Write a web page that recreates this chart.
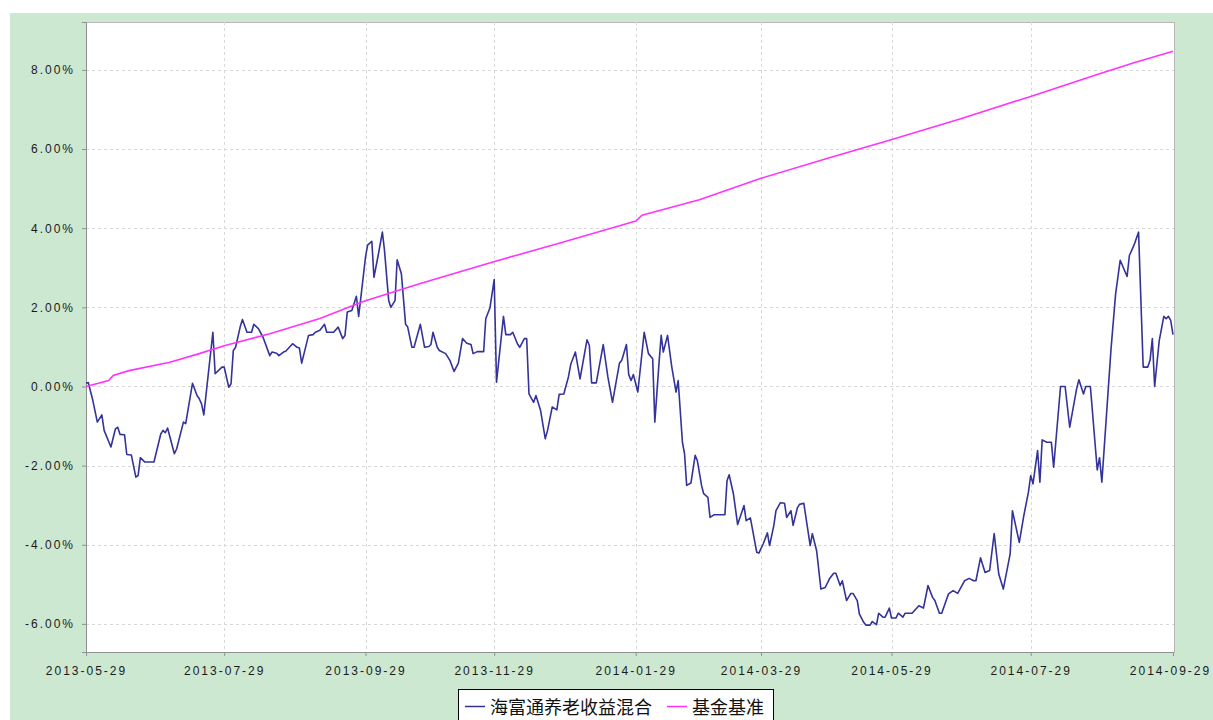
<!DOCTYPE html>
<html>
<head>
<meta charset="utf-8">
<script src="https://cdn.jsdelivr.net/npm/d3@7"></script>
<style>
  body { margin: 0; background: #fff; }
  svg { display: block; }
</style>
</head>
<body>
<div id="chart"></div>
<script>
// fund series
let fundDates = [
  '2013-05-29', '2013-05-30', '2013-06-01', '2013-06-03', '2013-06-05', '2013-06-06', '2013-06-09', '2013-06-11', '2013-06-12', '2013-06-13',
  '2013-06-15', '2013-06-16', '2013-06-18', '2013-06-20', '2013-06-21', '2013-06-22', '2013-06-24', '2013-06-28', '2013-07-01', '2013-07-02',
  '2013-07-03', '2013-07-04', '2013-07-07', '2013-07-08', '2013-07-11', '2013-07-12', '2013-07-15', '2013-07-17', '2013-07-18', '2013-07-19',
  '2013-07-20', '2013-07-24', '2013-07-25', '2013-07-28', '2013-07-29', '2013-07-31', '2013-08-01', '2013-08-02', '2013-08-03', '2013-08-05',
  '2013-08-06', '2013-08-08', '2013-08-10', '2013-08-11', '2013-08-13', '2013-08-15', '2013-08-18', '2013-08-19', '2013-08-21', '2013-08-22',
  '2013-08-24', '2013-08-25', '2013-08-28', '2013-08-30', '2013-08-31', '2013-09-01', '2013-09-04', '2013-09-06', '2013-09-07', '2013-09-09',
  '2013-09-11', '2013-09-12', '2013-09-15', '2013-09-17', '2013-09-19', '2013-09-20', '2013-09-21', '2013-09-23', '2013-09-25', '2013-09-26',
  '2013-09-29', '2013-09-30', '2013-10-02', '2013-10-03', '2013-10-05', '2013-10-07', '2013-10-08', '2013-10-10', '2013-10-11', '2013-10-13',
  '2013-10-14', '2013-10-16', '2013-10-18', '2013-10-19', '2013-10-21', '2013-10-22', '2013-10-25', '2013-10-27', '2013-10-29', '2013-10-30',
  '2013-10-31', '2013-11-02', '2013-11-03', '2013-11-06', '2013-11-08', '2013-11-10', '2013-11-12', '2013-11-14', '2013-11-16', '2013-11-18',
  '2013-11-19', '2013-11-21', '2013-11-24', '2013-11-25', '2013-11-27', '2013-11-29', '2013-11-30', '2013-12-03', '2013-12-04', '2013-12-06',
  '2013-12-07', '2013-12-09', '2013-12-10', '2013-12-12', '2013-12-13', '2013-12-14', '2013-12-16', '2013-12-17', '2013-12-19', '2013-12-21',
  '2013-12-22', '2013-12-24', '2013-12-26', '2013-12-27', '2013-12-29', '2013-12-31', '2014-01-01', '2014-01-03', '2014-01-05', '2014-01-08',
  '2014-01-09', '2014-01-10', '2014-01-12', '2014-01-15', '2014-01-17', '2014-01-19', '2014-01-22', '2014-01-23', '2014-01-25', '2014-01-26',
  '2014-01-27', '2014-01-28', '2014-01-30', '2014-02-02', '2014-02-04', '2014-02-06', '2014-02-07', '2014-02-09', '2014-02-10', '2014-02-11',
  '2014-02-13', '2014-02-15', '2014-02-17', '2014-02-18', '2014-02-20', '2014-02-21', '2014-02-22', '2014-02-24', '2014-02-26', '2014-02-27',
  '2014-03-01', '2014-03-02', '2014-03-04', '2014-03-05', '2014-03-07', '2014-03-12', '2014-03-13', '2014-03-14', '2014-03-16', '2014-03-18',
  '2014-03-21', '2014-03-22', '2014-03-24', '2014-03-27', '2014-03-28', '2014-03-30', '2014-04-01', '2014-04-02', '2014-04-04', '2014-04-05',
  '2014-04-07', '2014-04-09', '2014-04-10', '2014-04-12', '2014-04-13', '2014-04-15', '2014-04-16', '2014-04-18', '2014-04-21', '2014-04-22',
  '2014-04-24', '2014-04-26', '2014-04-28', '2014-04-30', '2014-05-02', '2014-05-03', '2014-05-05', '2014-05-06', '2014-05-08', '2014-05-10',
  '2014-05-11', '2014-05-13', '2014-05-14', '2014-05-16', '2014-05-17', '2014-05-19', '2014-05-20', '2014-05-22', '2014-05-23', '2014-05-25',
  '2014-05-26', '2014-05-28', '2014-05-29', '2014-05-31', '2014-06-01', '2014-06-03', '2014-06-04', '2014-06-07', '2014-06-10', '2014-06-12',
  '2014-06-14', '2014-06-16', '2014-06-17', '2014-06-19', '2014-06-20', '2014-06-23', '2014-06-25', '2014-06-27', '2014-06-30', '2014-07-02',
  '2014-07-04', '2014-07-05', '2014-07-07', '2014-07-09', '2014-07-11', '2014-07-13', '2014-07-15', '2014-07-17', '2014-07-20', '2014-07-21',
  '2014-07-24', '2014-07-26', '2014-07-28', '2014-07-29', '2014-07-30', '2014-08-01', '2014-08-02', '2014-08-03', '2014-08-05', '2014-08-07',
  '2014-08-08', '2014-08-11', '2014-08-13', '2014-08-15', '2014-08-18', '2014-08-19', '2014-08-21', '2014-08-22', '2014-08-24', '2014-08-27',
  '2014-08-28', '2014-08-29', '2014-09-02', '2014-09-04', '2014-09-06', '2014-09-09', '2014-09-10', '2014-09-12', '2014-09-14', '2014-09-16',
  '2014-09-18', '2014-09-19', '2014-09-20', '2014-09-21', '2014-09-23', '2014-09-25', '2014-09-26', '2014-09-27', '2014-09-28', '2014-09-29'
]

let fundValues = [
  0.08, 0.10, -0.35, -0.90, -0.72, -1.11, -1.53, -1.07, -1.03, -1.21,
  -1.22, -1.72, -1.73, -2.29, -2.25, -1.80, -1.91, -1.91, -1.20, -1.11,
  -1.17, -1.05, -1.70, -1.58, -0.90, -0.94, 0.08, -0.23, -0.31, -0.44,
  -0.72, 1.37, 0.32, 0.49, 0.49, -0.02, 0.07, 0.91, 0.99, 1.50,
  1.69, 1.37, 1.37, 1.57, 1.46, 1.25, 0.78, 0.87, 0.84, 0.78,
  0.87, 0.89, 1.08, 0.99, 0.97, 0.59, 1.29, 1.31, 1.37, 1.42,
  1.57, 1.37, 1.37, 1.50, 1.21, 1.29, 1.88, 1.92, 2.28, 1.77,
  3.27, 3.57, 3.67, 2.76, 3.31, 3.90, 3.44, 2.17, 2.00, 2.17,
  3.20, 2.85, 1.57, 1.50, 0.99, 0.99, 1.57, 0.99, 1.01, 1.06,
  1.37, 0.99, 0.91, 0.83, 0.66, 0.38, 0.59, 1.21, 1.09, 1.06,
  0.83, 0.88, 0.88, 1.71, 1.99, 2.70, 0.11, 1.77, 1.31, 1.31,
  1.37, 1.08, 0.99, 1.21, 1.21, -0.19, -0.40, -0.23, -0.61, -1.32,
  -1.11, -0.52, -0.59, -0.20, -0.19, 0.24, 0.56, 0.87, 0.19, 1.18,
  1.04, 0.09, 0.09, 1.06, 0.24, -0.40, 0.59, 0.66, 1.06, 0.30,
  0.15, 0.30, -0.14, 1.37, 0.83, 0.70, -0.90, 0.61, 1.29, 0.87,
  1.29, 0.49, -0.14, 0.15, -1.41, -1.70, -2.50, -2.44, -1.74, -1.87,
  -2.50, -2.71, -2.80, -3.31, -3.24, -3.24, -2.38, -2.23, -2.71, -3.49,
  -3.01, -3.39, -3.32, -4.19, -4.21, -3.98, -3.70, -4.02, -3.51, -3.14,
  -2.94, -2.95, -3.31, -3.14, -3.51, -3.07, -2.98, -2.95, -4.02, -3.72,
  -4.15, -5.12, -5.08, -4.86, -4.72, -4.72, -5.03, -4.91, -5.41, -5.23,
  -5.23, -5.41, -5.75, -5.96, -6.03, -6.03, -5.94, -6.02, -5.73, -5.83,
  -5.83, -5.60, -5.85, -5.85, -5.73, -5.83, -5.73, -5.73, -5.54, -5.60,
  -5.03, -5.33, -5.41, -5.73, -5.73, -5.24, -5.16, -5.23, -4.91, -4.85,
  -4.91, -4.91, -4.33, -4.70, -4.65, -3.72, -4.74, -5.12, -4.23, -3.14,
  -3.94, -3.26, -2.67, -2.25, -2.46, -1.62, -2.42, -1.35, -1.41, -1.41,
  -2.04, 0.00, 0.00, -1.03, -0.06, 0.17, -0.19, 0.00, 0.00, -2.11,
  -1.80, -2.42, 0.95, 2.34, 3.19, 2.78, 3.31, 3.57, 3.90, 0.49,
  0.49, 0.66, 1.21, 0.00, 1.16, 1.77, 1.71, 1.77, 1.67, 1.31
]

// benchmark series
let benchDates = [
  '2013-05-29', '2013-06-08', '2013-06-10', '2013-06-17', '2013-07-05', '2013-07-18', '2013-07-29', '2013-08-18',
  '2013-09-09', '2013-09-28', '2013-10-25', '2013-11-28', '2013-12-27', '2014-01-25', '2014-01-29', '2014-02-01',
  '2014-02-28', '2014-03-29', '2014-04-30', '2014-05-28', '2014-06-28', '2014-07-29', '2014-08-28', '2014-09-12', '2014-09-29'
]
let benchValues = [
  0.00, 0.15, 0.28, 0.40, 0.61, 0.83, 1.03, 1.33,
  1.72, 2.15, 2.60, 3.14, 3.62, 4.11, 4.18, 4.33,
  4.72, 5.26, 5.78, 6.22, 6.76, 7.33, 7.90, 8.18, 8.47
]

let xTickDates = ['2013-05-29', '2013-07-29', '2013-09-29', '2013-11-29', '2014-01-29', '2014-03-29', '2014-05-29', '2014-07-29', '2014-09-29']
let yTickValues = [-6, -4, -2, 0, 2, 4, 6, 8]
let legendLabels = ['海富通养老收益混合', '基金基准']
let legendColors = ['#333399', '#ff33ff']

let width = 1213
let height = 720
let margin = { top: 22, left: 86, right: 39, bottom: 68 }

// the date axis is spaced by trading days, so holidays squeeze some stretches;
// pixel stops for each tick keep that spacing
let xTickPx = [86, 224.2, 365.5, 494.2, 635.7, 761, 891.5, 1030.7, 1173]

let parseDate = d3.timeParse('%Y-%m-%d')
let formatDate = d3.timeFormat('%Y-%m-%d')

let svg = d3
  .select('#chart')
  .append('svg')
  .attr('width', width)
  .attr('height', height)

// green frame
svg
  .append('rect')
  .attr('x', 10)
  .attr('y', 13)
  .attr('width', width - 10)
  .attr('height', height - 13)
  .attr('fill', '#cde8d1')

let x = d3
  .scaleTime()
  .domain(xTickDates.map(parseDate))
  .range(xTickPx)

let y = d3
  .scaleLinear()
  .domain([-6.71, 9.21])
  .range([height - margin.bottom, margin.top])

let plotRight = width - margin.right

// plot area
svg
  .append('rect')
  .attr('x', margin.left + 0.5)
  .attr('y', margin.top + 0.5)
  .attr('width', plotRight - margin.left)
  .attr('height', height - margin.bottom - margin.top)
  .attr('fill', '#fff')
  .attr('stroke', '#b8b8b8')

// grid
svg
  .append('g')
  .selectAll('line')
  .data(yTickValues)
  .enter()
  .append('line')
  .attr('x1', margin.left)
  .attr('x2', plotRight)
  .attr('y1', d => Math.round(y(d)) + 0.5)
  .attr('y2', d => Math.round(y(d)) + 0.5)
  .attr('stroke', '#d8d8d8')
  .attr('stroke-dasharray', '3,3')

svg
  .append('g')
  .selectAll('line')
  .data(xTickDates.slice(1, -1))
  .enter()
  .append('line')
  .attr('x1', d => Math.round(x(parseDate(d))) + 0.5)
  .attr('x2', d => Math.round(x(parseDate(d))) + 0.5)
  .attr('y1', margin.top)
  .attr('y2', height - margin.bottom)
  .attr('stroke', '#d8d8d8')
  .attr('stroke-dasharray', '3,3')

// axes
let yAxis = d3
  .axisLeft(y)
  .tickValues(yTickValues)
  .tickSize(4)
  .tickPadding(7)
  .tickFormat(d => d.toFixed(2) + '%')

let xAxis = d3
  .axisBottom(x)
  .tickValues(xTickDates.map(parseDate))
  .tickSize(4)
  .tickPadding(10)
  .tickFormat(formatDate)

let yG = svg
  .append('g')
  .attr('transform', `translate(${margin.left}, 0)`)
  .call(yAxis)

let xG = svg
  .append('g')
  .attr('transform', `translate(0, ${height - margin.bottom})`)
  .call(xAxis)

;[xG, yG].forEach(g => {
  g.select('.domain').attr('stroke', '#909090')
  g.selectAll('.tick line').attr('stroke', '#909090')
  g.selectAll('.tick text')
    .attr('fill', '#1a1a1a')
    .style('font-family', '"Liberation Sans", Arial, sans-serif')
    .style('font-size', '12px')
    .style('letter-spacing', '2px')
})

// keep the last date label inside the frame
xG.selectAll('.tick text')
  .filter((d, i) => i === xTickDates.length - 1)
  .attr('dx', -3)

// lines
let fund = fundDates.map((d, i) => ({ date: parseDate(d), value: fundValues[i] }))
let bench = benchDates.map((d, i) => ({ date: parseDate(d), value: benchValues[i] }))

let line = d3
  .line()
  .x(d => x(d.date))
  .y(d => y(d.value))

svg
  .append('path')
  .datum(fund)
  .attr('d', line)
  .attr('fill', 'none')
  .attr('stroke', legendColors[0])
  .attr('stroke-width', 1.6)
  .attr('stroke-linejoin', 'round')

svg
  .append('path')
  .datum(bench)
  .attr('d', line)
  .attr('fill', 'none')
  .attr('stroke', legendColors[1])
  .attr('stroke-width', 1.6)

// legend
let legend = svg.append('g')

legend
  .append('rect')
  .attr('x', 458.5)
  .attr('y', 689.5)
  .attr('width', 315)
  .attr('height', 40)
  .attr('fill', '#fff')
  .attr('stroke', '#000')

let legendX = [465, 667]

legend
  .selectAll('.legend-line')
  .data(legendLabels)
  .enter()
  .append('line')
  .attr('x1', (d, i) => legendX[i])
  .attr('x2', (d, i) => legendX[i] + 20)
  .attr('y1', 706.5)
  .attr('y2', 706.5)
  .attr('stroke', (d, i) => legendColors[i])
  .attr('stroke-width', 1.5)

legend
  .selectAll('.legend-text')
  .data(legendLabels)
  .enter()
  .append('text')
  .attr('x', (d, i) => legendX[i] + 25)
  .attr('y', 706)
  .attr('dominant-baseline', 'central')
  .style('font-family', '"Noto Sans CJK SC", sans-serif')
  .style('font-size', '18px')
  .attr('fill', '#111')
  .text(d => d)
</script>
</body>
</html>
